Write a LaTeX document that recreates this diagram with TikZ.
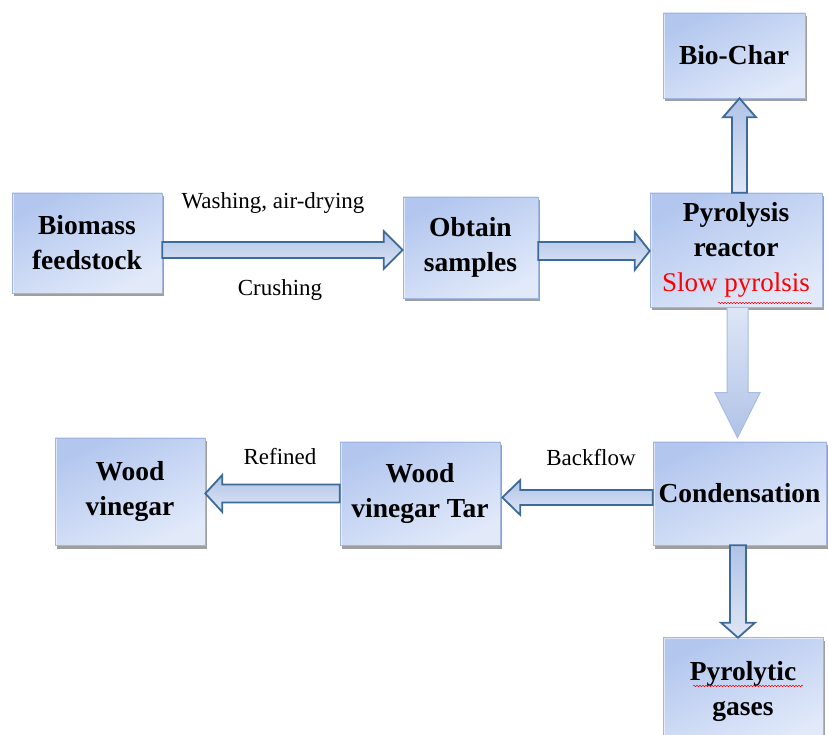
\documentclass[tikz,border=0pt]{standalone}
\usepackage{fontspec}
\setmainfont{Liberation Serif}
\usetikzlibrary{calc,shadows,decorations.pathmorphing}
\definecolor{boxA}{RGB}{178,198,238}
\definecolor{boxB}{RGB}{226,234,250}
\definecolor{boxedge}{RGB}{160,182,222}
\definecolor{arrdark}{RGB}{62,106,152}
\definecolor{arrA}{RGB}{176,195,230}
\definecolor{arrB}{RGB}{222,230,246}
\definecolor{arrlight}{RGB}{168,188,226}
\tikzset{
  box/.style={rectangle, draw=boxedge, line width=0.6pt,
    top color=boxA, bottom color=boxB, shading angle=25,
    drop shadow={shadow xshift=1.5pt, shadow yshift=-3.5pt, opacity=0.5, fill=black!75},
    path picture={\draw[white,opacity=0.55,line width=3pt]
      (path picture bounding box.south west) |- (path picture bounding box.north east);},
    align=center, inner sep=0pt,
    font=\fontsize{27.5}{35}\selectfont\bfseries},
  lbl/.style={font=\fontsize{23}{28}\selectfont, inner sep=0pt},
  barrow/.style={draw=arrdark, line width=1.8pt, line join=miter,
    top color=arrA, bottom color=arrB},
  barrowlight/.style={draw=arrlight, line width=1pt, line join=miter,
    top color=arrB, bottom color=arrA},
  wavy/.style={draw=red, line width=0.5pt,
    decorate, decoration={snake, amplitude=0.7pt, segment length=3pt}}
}
% #1 options, #2 start, #3 tip, #4 shaft half width, #5 head half width, #6 head length
\newcommand\blockarrow[6][]{%
  \coordinate (ba-h) at ($(#3)!#6!(#2)$);
  \draw[barrow,#1] ($(#2)!#4!90:(#3)$) -- ($(ba-h)!#4!-90:(#2)$)
    -- ($(ba-h)!#5!-90:(#2)$) -- (#3) -- ($(ba-h)!#5!90:(#2)$)
    -- ($(ba-h)!#4!90:(#2)$) -- ($(#2)!#4!-90:(#3)$) -- cycle;
}
\begin{document}
\begin{tikzpicture}[x=1pt,y=-1pt]
\useasboundingbox (0,0) rectangle (828,735);
\fill[white] (0,0) rectangle (828,735);

% boxes
\node[box, minimum width=150pt, minimum height=100pt] (bio) at (87,243) {Biomass\\feedstock};
\node[box, minimum width=135pt, minimum height=101pt] (obt) at (470.5,247.5) {Obtain\\samples};
\node[box, minimum width=172pt, minimum height=114pt] (pyr) at (736,250)
  {Pyrolysis\\reactor\\{\fontsize{27}{35}\selectfont\mdseries\color{red}Slow pyrolsis}};
\node[box, minimum width=142pt, minimum height=85pt] (char) at (734,55.5) {Bio-Char};
\node[box, minimum width=173pt, minimum height=103pt] (cond) at (739.5,493.5) {Condensation};
\node[box, minimum width=160pt, minimum height=108pt] (gas) at (743,691) {Pyrolytic\\gases};
\node[box, minimum width=150pt, minimum height=107pt] (wv) at (130,491.5) {Wood\\vinegar};
\node[box, minimum width=160pt, minimum height=103pt] (wvt) at (420,493.5) {Wood\\vinegar Tar};

% spell-check underlines
\draw[wavy] (718,303) -- (812,303);
\draw[wavy] (693,686) -- (803,686);

% connectors
\coordinate (a1s) at ($(bio.east)+(0,7)$);
\coordinate (a1e) at (obt.west |- a1s);
\blockarrow{a1s}{a1e}{8pt}{19pt}{19pt}

\coordinate (a2s) at ($(obt.east)+(0,3.5)$);
\coordinate (a2e) at (pyr.west |- a2s);
\blockarrow{a2s}{a2e}{9pt}{19pt}{15pt}

\coordinate (a3s) at ($(pyr.north)+(3.5,0)$);
\coordinate (a3e) at (a3s |- char.south);
\blockarrow{a3s}{a3e}{7.5pt}{16.5pt}{19pt}

\coordinate (a4s) at ($(pyr.south)+(1.5,0)$);
\coordinate (a4e) at ($(a4s |- cond.north)+(0,-4)$);
\blockarrow[barrowlight]{a4s}{a4e}{10.5pt}{22.5pt}{45pt}

\coordinate (a5s) at ($(cond.west)+(0,4)$);
\coordinate (a5e) at ($(wvt.east |- a5s)+(2,0)$);
\blockarrow{a5s}{a5e}{7.5pt}{17.5pt}{18pt}

\coordinate (a6s) at (wvt.west);
\coordinate (a6e) at (wv.east |- a6s);
\blockarrow{a6s}{a6e}{9pt}{18.5pt}{17pt}

\coordinate (a7s) at ($(cond.south)+(-1.5,0)$);
\coordinate (a7e) at ($(a7s |- gas.north)+(0,1)$);
\blockarrow{a7s}{a7e}{8pt}{17pt}{15pt}

% labels
\node[lbl] (l1) at (273,203) {Washing, air-drying};
\node[lbl] (l2) at (280,290) {Crushing};
\node[lbl] (l3) at (280,457) {Refined};
\node[lbl] (l4) at (591,458) {Backflow};
\end{tikzpicture}
\end{document}
